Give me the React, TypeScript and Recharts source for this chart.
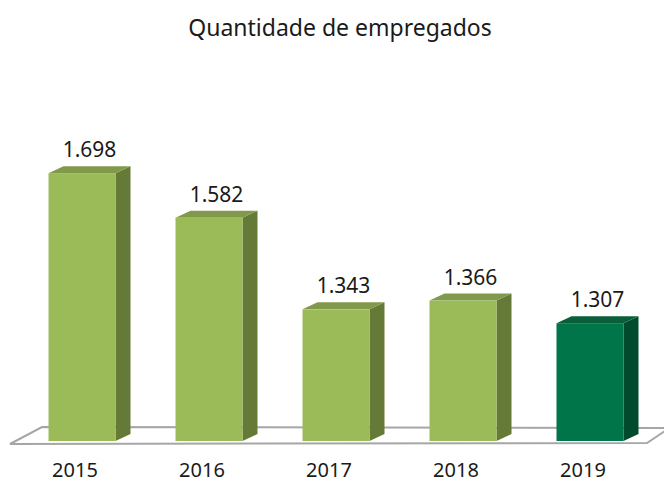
import { BarChart, Bar, XAxis, YAxis, LabelList } from "recharts";

const years = ["2015", "2016", "2017", "2018", "2019"];
const employees = [1698, 1582, 1343, 1366, 1307];
const highlight = [false, false, false, false, true];

const data = years.map((year, i) => ({ year, value: employees[i], hl: highlight[i] }));

const W = 664;
const H = 481;
const margin = { top: 134, right: 10.5, bottom: 10, left: 18.5 };
const axisH = 30;
const DX = 15;
const DY = 7;
const font = "Noto Sans, sans-serif";

const fmt = (v: number) => {
  const s = String(v);
  return s.length > 3 ? s.slice(0, -3) + "." + s.slice(-3) : s;
};

function Bar3D(props: any) {
  const { x, y, width, height, payload } = props;
  const hl = payload && payload.hl;
  const front = hl ? "#00754A" : "#9BBB59";
  const side = hl ? "#004B2E" : "#667A37";
  const top = hl ? "#0A5F3B" : "#80994A";
  return (
    <g>
      <polygon
        points={`${x + width},${y} ${x + width + DX},${y - DY} ${x + width + DX},${y + height - DY} ${x + width},${y + height}`}
        fill={side}
      />
      <polygon
        points={`${x},${y} ${x + DX},${y - DY} ${x + width + DX},${y - DY} ${x + width},${y}`}
        fill={top}
      />
      <rect x={x} y={y} width={width} height={height} fill={front} />
    </g>
  );
}

function ValueLabel(props: any) {
  const { x, y, width, value } = props;
  return (
    <text
      x={x + (width + DX) / 2}
      y={y - 16}
      textAnchor="middle"
      fontFamily={font}
      fontSize={21}
      fill="#1a1a1a"
    >
      {fmt(value)}
    </text>
  );
}

function YearTick(props: any) {
  const { x, y, payload } = props;
  return (
    <text x={x - 7} y={y + 28} textAnchor="middle" fontFamily={font} fontSize={20} fill="#1a1a1a">
      {payload.value}
    </text>
  );
}

export default function App() {
  const left = margin.left;
  const right = W - margin.right;
  const bottom = H - margin.bottom - axisH;
  // floor plate under the bars
  const floor = `${left - 8.5},${bottom + 3} ${left + 23.5},${bottom - 14} ${right + 16},${bottom - 13} ${right - 6.5},${bottom + 2}`;

  return (
    <div style={{ position: "absolute", left: 0, top: 0, width: W, height: H, background: "#fff", overflow: "hidden" }}>
      <div
        style={{
          position: "absolute",
          top: 11,
          left: 0,
          width: W,
          textAlign: "center",
          fontFamily: font,
          fontSize: 23,
          color: "#1a1a1a",
          paddingLeft: 16,
          boxSizing: "border-box",
        }}
      >
        Quantidade de empregados
      </div>
      <svg width={W} height={H} style={{ position: "absolute", left: 0, top: 0 }}>
        <polygon points={floor} fill="#fff" stroke="#A6A6A6" strokeWidth={2} />
      </svg>
      <div style={{ position: "absolute", left: 0, top: 0 }}>
        <BarChart width={W} height={H} data={data} margin={margin} barSize={67}>
          <XAxis dataKey="year" height={axisH} axisLine={false} tickLine={false} tick={<YearTick />} interval={0} />
          <YAxis hide domain={[1000, 1800]} allowDataOverflow />
          <Bar dataKey="value" shape={<Bar3D />} isAnimationActive={false}>
            <LabelList dataKey="value" content={<ValueLabel />} />
          </Bar>
        </BarChart>
      </div>
    </div>
  );
}
